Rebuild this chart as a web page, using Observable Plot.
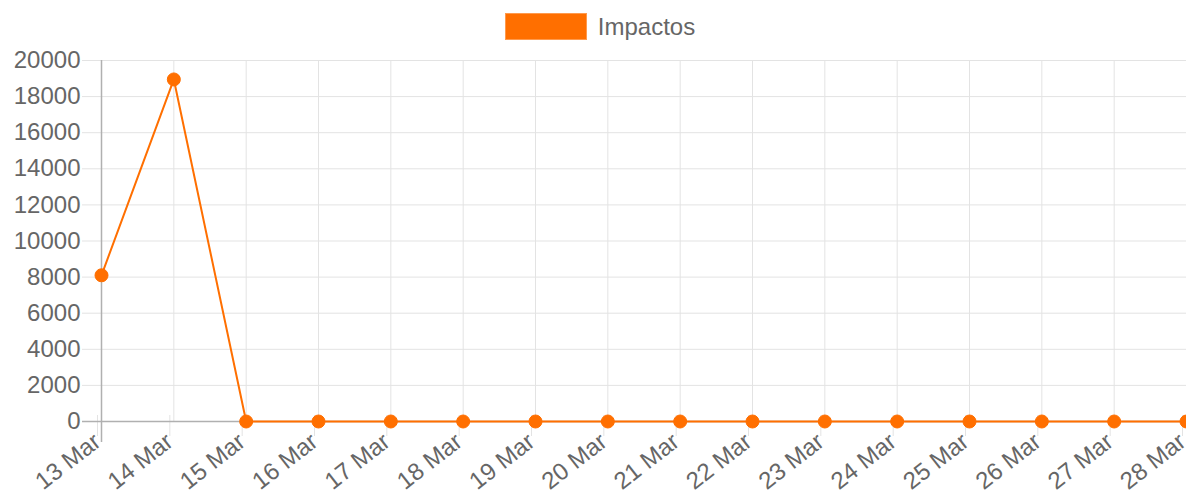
<!DOCTYPE html>
<html>
<head>
<meta charset="utf-8">
<script src="https://cdn.jsdelivr.net/npm/d3@7"></script>
<script src="https://cdn.jsdelivr.net/npm/@observablehq/plot@0.6"></script>
<style>
  html, body { margin: 0; padding: 0; background: #fff; overflow: hidden; }
  body { width: 1186px; height: 492px; font-family: "Liberation Sans", Arial, sans-serif; }
  #legend { height: 50px; display: flex; justify-content: center; align-items: flex-start; padding-left: 14px; }
  #legend .box { width: 80px; height: 25px; margin-top: 13px; background: #ff6f00; border: 1px solid #ff9a4d; }
  #legend .lbl { margin-left: 11px; margin-top: 13px; font-size: 24px; line-height: 27px; color: #666; }
</style>
</head>
<body>
<div id="legend"><div class="box"></div><div class="lbl">Impactos</div></div>
<div id="chart"></div>
<script>
const dates = ["13 Mar","14 Mar","15 Mar","16 Mar","17 Mar","18 Mar","19 Mar","20 Mar","21 Mar","22 Mar","23 Mar","24 Mar","25 Mar","26 Mar","27 Mar","28 Mar"];
const impactos = [8100, 18950, 0, 0, 0, 0, 0, 0, 0, 0, 0, 0, 0, 0, 0, 0];
const yTicks = [0, 2000, 4000, 6000, 8000, 10000, 12000, 14000, 16000, 18000, 20000];
const seriesName = "Impactos";

const data = dates.map((d, i) => ({date: d, value: impactos[i]}));

const gridColor = "#e3e3e3";
const axisColor = "#b0b0b0";
const lineColor = "#ff6f00";

const chart = Plot.plot({
  width: 1186,
  height: 442,
  marginLeft: 101,
  marginRight: 0,
  marginTop: 10,
  marginBottom: 71,
  style: {fontFamily: "'Liberation Sans', Arial, sans-serif", fontSize: "24px", color: "#666", background: "white"},
  x: {type: "point", domain: dates, padding: 0, round: false},
  y: {domain: [0, 20000]},
  marks: [
    Plot.ruleY(yTicks, {stroke: gridColor, strokeWidth: 1}),
    Plot.ruleX(dates.slice(1), {y1: 20000, y2: 0, stroke: gridColor, strokeWidth: 1}),
    Plot.axisY({ticks: yTicks, tickSize: 19, tickPadding: 2, stroke: gridColor, fill: "#666", tickFormat: d3.format("d"), label: null}),
    Plot.axisX({tickSize: 21, tickPadding: 2, tickRotate: -38, stroke: gridColor, fill: "#666", label: null, dx: -4, dy: -6}),
    Plot.ruleY([0], {stroke: axisColor, strokeWidth: 1.5, insetLeft: -19}),
    Plot.ruleX([dates[0]], {y1: 20000, y2: 0, stroke: axisColor, strokeWidth: 1.5, insetBottom: -21}),
    Plot.line(data, {x: "date", y: "value", stroke: lineColor, strokeWidth: 2}),
    Plot.dot(data, {x: "date", y: "value", r: 6.5, fill: lineColor, stroke: lineColor, strokeWidth: 1, title: d => `${seriesName}: ${d.value}`})
  ]
});
document.getElementById("chart").appendChild(chart);
</script>
</body>
</html>
